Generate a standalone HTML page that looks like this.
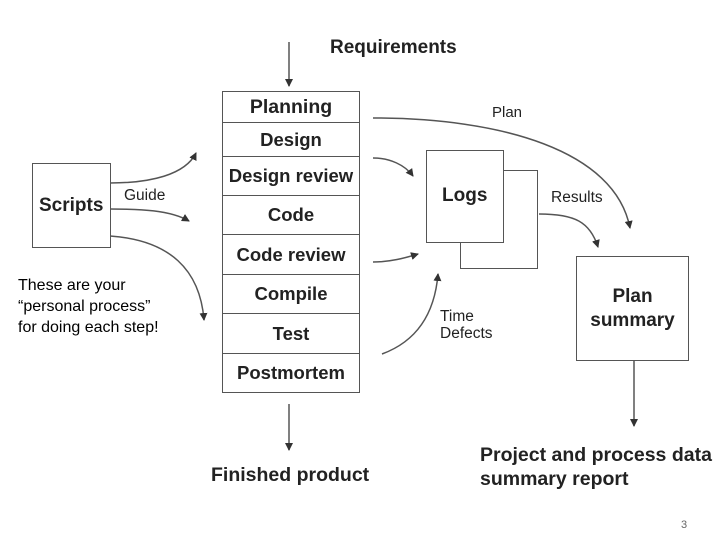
<!DOCTYPE html>
<html><head><style>
body{margin:0;width:720px;height:540px;background:#fff;position:relative;overflow:hidden;font-family:"Liberation Sans",sans-serif;}
.t{position:absolute;font-weight:bold;color:#222;white-space:nowrap;}
.box{position:absolute;border:1.5px solid #555;background:#fff;box-sizing:border-box;}
.row{position:absolute;left:222px;width:138px;border:1.5px solid #555;box-sizing:border-box;text-align:center;font-weight:bold;color:#222;font-size:18.5px;background:#fff;white-space:nowrap;}
</style></head><body>
<svg width="720" height="540" style="position:absolute;left:0;top:0">
<defs><marker id="a" markerWidth="8" markerHeight="8" refX="7" refY="4" orient="auto" markerUnits="userSpaceOnUse"><path d="M0,0 L8,4 L0,8z" fill="#333"/></marker></defs>
<g stroke="#555" stroke-width="1.5" fill="none" marker-end="url(#a)">
<line x1="289" y1="42" x2="289" y2="86"/>
<line x1="289" y1="404" x2="289" y2="450"/>
<line x1="634" y1="360" x2="634" y2="426"/>
<path d="M110,183 C150,183 185,175 196,153"/>
<path d="M110,209 C140,209 170,210 189,221"/>
<path d="M110,236 C170,240 200,270 204,320"/>
<path d="M373,118 C500,118 615,150 630,228"/>
<path d="M373,158 C390,158 405,165 413,176"/>
<path d="M539,214 C575,214 590,222 598,247"/>
<path d="M373,262 C390,262 405,258 418,254"/>
<path d="M382,354 C420,340 435,310 438,274"/>
</g>
</svg>
<div class="t" style="left:330px;top:37px;font-size:19px">Requirements</div>
<div class="row" style="top:91px;height:32px;line-height:30px;font-size:19.5px">Planning</div>
<div class="row" style="top:122px;height:35px;line-height:33px">Design</div>
<div class="row" style="top:156px;height:40px;line-height:38px;font-size:18.5px">Design review</div>
<div class="row" style="top:195px;height:40px;line-height:38px">Code</div>
<div class="row" style="top:234px;height:41px;line-height:39px">Code review</div>
<div class="row" style="top:274px;height:40px;line-height:38px">Compile</div>
<div class="row" style="top:313px;height:41px;line-height:39px">Test</div>
<div class="row" style="top:353px;height:40px;line-height:38px">Postmortem</div>
<div class="box" style="left:32px;top:163px;width:79px;height:85px"></div>
<div class="t" style="left:39px;top:195px;font-size:19px">Scripts</div>
<div class="t" style="left:124px;top:187px;font-size:15.5px;font-weight:normal">Guide</div>
<div class="box" style="left:460px;top:170px;width:78px;height:99px"></div>
<div class="box" style="left:426px;top:150px;width:78px;height:93px"></div>
<div class="t" style="left:442px;top:185px;font-size:19px">Logs</div>
<div class="t" style="left:492px;top:104px;font-size:15px;font-weight:normal">Plan</div>
<div class="t" style="left:551px;top:189px;font-size:15.5px;font-weight:normal">Results</div>
<div class="t" style="left:440px;top:308px;font-size:15.5px;font-weight:normal;line-height:17px">Time<br>Defects</div>
<div class="box" style="left:576px;top:256px;width:113px;height:105px"></div>
<div class="t" style="left:576px;top:285px;width:113px;text-align:center;font-size:19px;line-height:24px">Plan<br>summary</div>
<div class="t" style="left:211px;top:464px;font-size:19.5px">Finished product</div>
<div class="t" style="left:480px;top:443px;font-size:19.5px;line-height:24px">Project and process data<br>summary report</div>
<div style="position:absolute;left:18px;top:275px;font-size:16px;line-height:21px;color:#000;white-space:nowrap">These are your<br>“personal process”<br>for doing each step!</div>
<div style="position:absolute;left:681px;top:519px;font-size:11px;color:#666">3</div>
</body></html>
